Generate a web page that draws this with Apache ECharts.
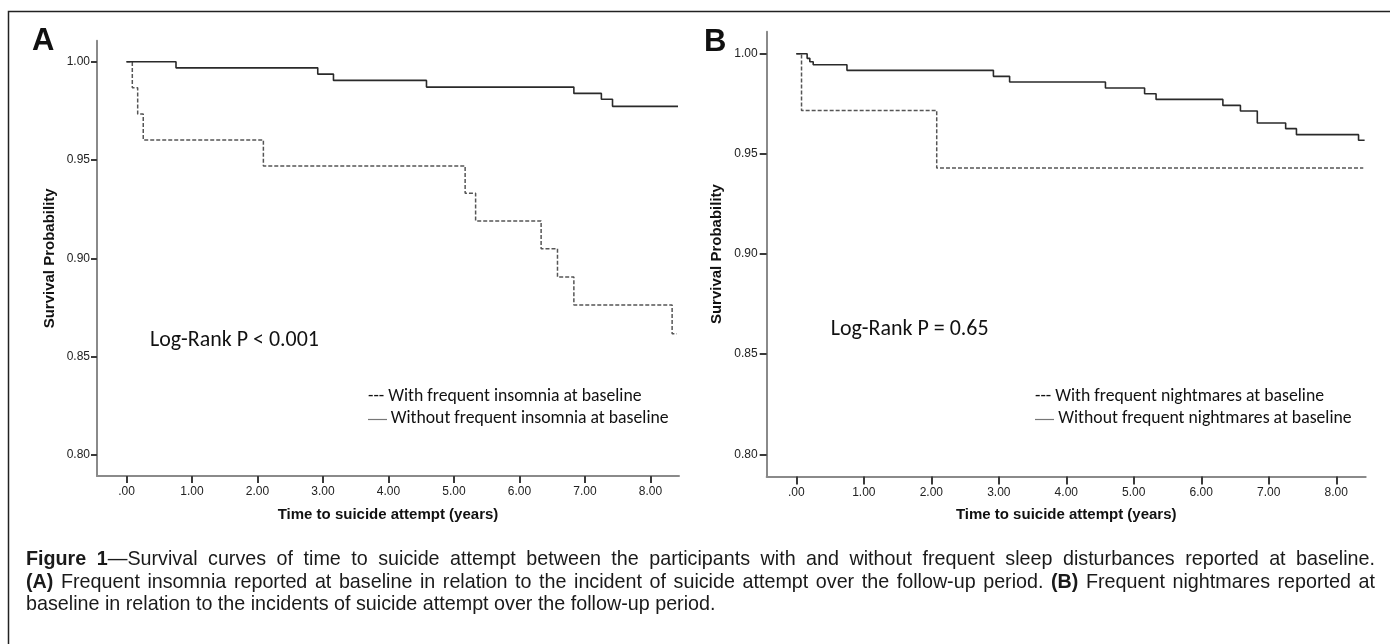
<!DOCTYPE html>
<html><head><meta charset="utf-8">
<script src="https://cdn.jsdelivr.net/npm/echarts@6/dist/echarts.min.js"></script>
<style>html,body{margin:0;padding:0;background:#fff}#c{width:1390px;height:644px}</style>
</head><body><div id="c"></div>
<script>
// ---------------- data ----------------
const xTickValues = [0, 1, 2, 3, 4, 5, 6, 7, 8];
const yTickValues = [0.80, 0.85, 0.90, 0.95, 1.00];

// Panel A: insomnia
const insomniaWithTime = [0, 0.089, 0.171, 0.256, 2.09, 5.17, 5.33, 6.33, 6.58, 6.83, 8.33, 8.40];
const insomniaWithSurv = [1.000, 0.9868, 0.9734, 0.9602, 0.9470, 0.9331, 0.9190, 0.9049, 0.8905, 0.8763, 0.8616, 0.8616];
const insomniaWithoutTime = [0, 0.756, 2.92, 3.16, 4.58, 6.83, 7.25, 7.42, 8.42];
const insomniaWithoutSurv = [1.000, 0.9969, 0.9937, 0.9905, 0.9871, 0.9839, 0.9809, 0.9773, 0.9773];

// Panel B: nightmares
const nightmareWithTime = [0, 0.077, 2.08, 8.40];
const nightmareWithSurv = [1.000, 0.9717, 0.9429, 0.9429];
const nightmareWithoutTime = [0, 0.16, 0.20, 0.25, 0.75, 2.92, 3.16, 4.58, 5.16, 5.33, 6.32, 6.58, 6.83, 7.25, 7.41, 8.33, 8.42];
const nightmareWithoutSurv = [1.000, 0.9977, 0.9960, 0.9945, 0.9917, 0.9887, 0.9859, 0.9829, 0.9800, 0.9772, 0.9742, 0.9714, 0.9654, 0.9626, 0.9596, 0.9568, 0.9568];

const panelLetters = ['A', 'B'];
const logRankTexts = ['Log-Rank P < 0.001', 'Log-Rank P = 0.65'];
const legendWith = ['--- With frequent insomnia at baseline', '--- With frequent nightmares at baseline'];
const legendWithout = ['Without frequent insomnia at baseline', 'Without frequent nightmares at baseline'];
const yTitle = 'Survival Probability';
const xTitle = 'Time to suicide attempt (years)';
const captionLines = [
  [['Figure 1', true], ['—Survival curves of time to suicide attempt between the participants with and without frequent sleep disturbances reported at baseline.', false]],
  [['(A)', true], [' Frequent insomnia reported at baseline in relation to the incident of suicide attempt over the follow-up period. ', false], ['(B)', true], [' Frequent nightmares reported at', false]],
  [['baseline in relation to the incidents of suicide attempt over the follow-up period.', false]]
];

// ---------------- helpers ----------------
const zip = (a, b) => a.map((v, i) => [v, b[i]]);
const fontArial = "'Liberation Sans', Arial, Helvetica, sans-serif";
const fontCal = "Carlito, Lato, 'Open Sans', sans-serif";
const mctx = document.createElement('canvas').getContext('2d');
function tw(text, weight, size, family) { mctx.font = weight + ' ' + size + 'px ' + family; return mctx.measureText(text).width; }
function fit(text, weight, family, target) { return 16 * target / tw(text, weight, 16, family); }

// ---------------- axes ----------------
const grids = [
  { left: 97, top: 40.7, width: 582, height: 435.3 },
  { left: 766.7, top: 31.7, width: 599, height: 444.8 }
];
const xRanges = [[-0.45, 8.435], [-0.439, 8.436]];
const yRanges = [[0.7893, 1.0107], [0.7889, 1.0110]];
const tickLen = [7, 8];

const xAxes = [0, 1].map(i => ({
  type: 'value', gridIndex: i, min: xRanges[i][0], max: xRanges[i][1],
  splitLine: { show: false },
  axisLine: { show: true, onZero: false, lineStyle: { color: '#8a8a8a', width: 2 } },
  axisTick: { show: true, customValues: xTickValues, length: tickLen[i], lineStyle: { color: '#3a3a3a', width: 2 } },
  axisLabel: { customValues: xTickValues, margin: 10, fontFamily: fontArial, fontSize: 12, color: '#222',
    formatter: v => (Math.abs(v) < 1e-9 ? '.00' : Number(v).toFixed(2)) },
  name: xTitle, nameLocation: 'middle', nameGap: 31,
  nameTextStyle: { fontFamily: fontArial, fontWeight: 'bold', fontSize: 15, color: '#111' }
}));
const yAxes = [0, 1].map(i => ({
  type: 'value', gridIndex: i, min: yRanges[i][0], max: yRanges[i][1],
  splitLine: { show: false },
  axisLine: { show: true, onZero: false, lineStyle: { color: '#8a8a8a', width: 2 } },
  axisTick: { show: true, customValues: yTickValues, length: tickLen[i] - 1, lineStyle: { color: '#3a3a3a', width: 2 } },
  axisLabel: { customValues: yTickValues, margin: i === 0 ? 7 : 9, fontFamily: fontArial, fontSize: 12, color: '#222',
    formatter: v => Number(v).toFixed(2) },
  name: yTitle, nameLocation: 'middle', nameGap: i === 0 ? 39.5 : 42.5,
  nameTextStyle: { fontFamily: fontArial, fontWeight: 'bold', fontSize: 15, color: '#111' }
}));

function stepSeries(name, idx, t, s, dashed) {
  return {
    name, type: 'line', xAxisIndex: idx, yAxisIndex: idx, step: 'end',
    data: zip(t, s), showSymbol: false, symbol: 'none', silent: true,
    lineStyle: dashed ? { color: '#555', width: 1.5, type: [4, 2] } : { color: '#2a2a2a', width: 1.6 }
  };
}
const series = [
  stepSeries('With frequent insomnia', 0, insomniaWithTime, insomniaWithSurv, true),
  stepSeries('Without frequent insomnia', 0, insomniaWithoutTime, insomniaWithoutSurv, false),
  stepSeries('With frequent nightmares', 1, nightmareWithTime, nightmareWithSurv, true),
  stepSeries('Without frequent nightmares', 1, nightmareWithoutTime, nightmareWithoutSurv, false)
];

// ---------------- graphic texts ----------------
function txt(text, x, y, size, family, weight, align, color) {
  return { type: 'text', x, y, silent: true, z: 10,
    style: { text, fontSize: size, fontFamily: family, fontWeight: weight || 'normal', fill: color || '#111',
      textAlign: align || 'left', align: align || 'left', textVerticalAlign: 'middle', verticalAlign: 'middle' } };
}
const graphic = [];
// outer frame
graphic.push({ type: 'rect', silent: true, z: 0, shape: { x: 8.5, y: 11.5, width: 1420, height: 700 },
  style: { fill: 'none', stroke: '#222', lineWidth: 1.5 } });
// panel letters
graphic.push(txt(panelLetters[0], 32, 41.5, 31, fontArial, 'bold'));
graphic.push(txt(panelLetters[1], 704, 42.5, 31, fontArial, 'bold'));
// log-rank
const lrSizeA = fit(logRankTexts[0], 'normal', fontCal, 169);
const lrSizeB = fit(logRankTexts[1], 'normal', fontCal, 158);
graphic.push(txt(logRankTexts[0], 150, 341, lrSizeA, fontCal));
graphic.push(txt(logRankTexts[1], 830.7, 330, lrSizeB, fontCal));
// legends
const legSize = fit(legendWithout[0], 'normal', fontCal, 278);
const legX = [[368, 387, 390.7], [1035, 1054, 1058.3]];
[0, 1].forEach(i => {
  graphic.push(txt(legendWith[i], legX[i][0], 396.7, legSize, fontCal));
  graphic.push({ type: 'line', silent: true, z: 10, shape: { x1: legX[i][0], y1: 419.5, x2: legX[i][1], y2: 419.5 },
    style: { stroke: '#777', lineWidth: 1.2 } });
  graphic.push(txt(legendWithout[i], legX[i][2], 419, legSize, fontCal));
});
// caption (justified lines)
const capFamily = "'Liberation Sans Narrow', 'Arial Narrow', " + fontArial;
const capSize = Math.max(14, Math.min(21, 17.5 * 690 / tw(captionLines[2][0][0], 'normal', 17.5, capFamily)));
const capLeft = 26, capRight = 1375;
const capY = [559.5, 582.5, 605];
function toWords(segs) {
  const words = []; let cur = [];
  segs.forEach(([t, b]) => {
    t.split(' ').forEach((p, k) => {
      if (k > 0) { if (cur.length) words.push(cur); cur = []; }
      if (p) cur.push([p, b]);
    });
  });
  if (cur.length) words.push(cur);
  return words;
}
captionLines.forEach((segs, li) => {
  const words = toWords(segs);
  const wWidths = words.map(w => w.reduce((a, [t, b]) => a + tw(t, b ? 'bold' : 'normal', capSize, capFamily), 0));
  const total = wWidths.reduce((a, b) => a + b, 0);
  const justify = li < captionLines.length - 1;
  const gap = justify ? (capRight - capLeft - total) / (words.length - 1) : tw(' ', 'normal', capSize, capFamily);
  let x = capLeft;
  words.forEach((w, wi) => {
    let sx = x;
    w.forEach(([t, b]) => {
      graphic.push(txt(t, sx, capY[li], capSize, capFamily, b ? 'bold' : 'normal', 'left', '#1a1a1a'));
      sx += tw(t, b ? 'bold' : 'normal', capSize, capFamily);
    });
    x += wWidths[wi] + gap;
  });
});

const chart = echarts.init(document.getElementById('c'), null, { renderer: 'canvas' });
chart.setOption({
  animation: false,
  backgroundColor: '#ffffff',
  grid: grids,
  xAxis: xAxes,
  yAxis: yAxes,
  series,
  graphic
});
</script>
</body></html>
